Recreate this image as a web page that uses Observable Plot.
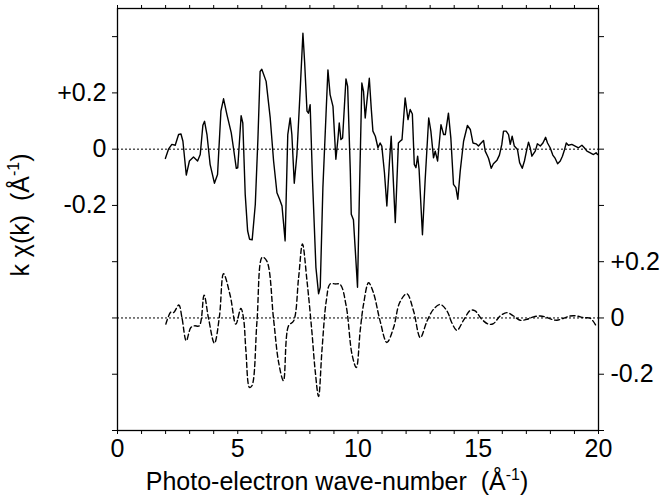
<!DOCTYPE html>
<html>
<head>
<meta charset="utf-8">
<script src="https://cdn.jsdelivr.net/npm/d3@7"></script>
<script src="https://cdn.jsdelivr.net/npm/@observablehq/plot@0.6"></script>
<style>
  html, body { margin: 0; padding: 0; background: white; }
</style>
</head>
<body>
<div id="chart"></div>
<script>
// Experimental k·chi(k) (top, solid)
const expK = [1.99,2.12,2.26,2.40,2.54,2.64,2.72,2.86,2.99,3.16,3.33,3.44,3.55,3.62,3.72,3.85,4.03,4.16,4.30,4.41,4.55,4.73,4.82,4.94,5.00,5.14,5.21,5.31,5.41,5.49,5.60,5.73,5.84,5.93,6.00,6.18,6.35,6.49,6.63,6.74,6.84,6.97,7.08,7.18,7.25,7.35,7.46,7.60,7.71,7.78,7.88,7.94,8.01,8.11,8.25,8.36,8.43,8.54,8.67,8.75,8.84,8.96,9.08,9.17,9.22,9.29,9.36,9.50,9.57,9.68,9.72,9.81,9.88,9.98,10.05,10.16,10.23,10.30,10.37,10.47,10.55,10.62,10.72,10.83,10.92,10.99,11.10,11.20,11.31,11.38,11.45,11.55,11.68,11.75,11.83,11.96,12.08,12.17,12.26,12.34,12.41,12.48,12.54,12.68,12.79,12.94,13.03,13.14,13.21,13.31,13.45,13.56,13.63,13.76,13.86,13.97,14.07,14.15,14.25,14.39,14.55,14.67,14.78,14.91,15.01,15.12,15.22,15.29,15.39,15.43,15.54,15.63,15.78,15.88,15.98,16.05,16.16,16.26,16.33,16.41,16.50,16.63,16.72,16.83,16.92,17.02,17.09,17.16,17.23,17.37,17.46,17.58,17.69,17.80,17.88,17.99,18.10,18.20,18.30,18.41,18.50,18.59,18.66,18.75,18.89,19.03,19.17,19.31,19.41,19.52,19.66,19.79,19.90,19.96];
const expChi = [-0.033,0.000,0.017,0.014,0.052,0.054,0.028,-0.092,-0.042,-0.028,-0.042,-0.019,0.085,0.099,0.052,-0.054,-0.121,-0.090,0.135,0.179,0.123,0.058,0.005,-0.068,-0.066,0.119,0.093,-0.160,-0.290,-0.320,-0.322,-0.196,0.040,0.276,0.284,0.241,0.111,-0.042,-0.155,-0.178,-0.202,-0.326,0.052,0.111,0.052,-0.121,-0.019,0.217,0.412,0.311,0.135,0.128,0.158,-0.113,-0.420,-0.514,-0.491,-0.137,0.123,0.282,0.194,0.152,-0.036,0.040,0.093,0.034,0.040,0.250,0.223,-0.078,-0.231,-0.251,-0.349,-0.491,-0.196,0.235,0.205,0.111,0.170,0.252,0.146,0.064,0.046,0.005,0.022,0.011,-0.084,-0.202,-0.042,0.046,-0.078,-0.261,0.022,0.028,0.034,0.182,0.105,0.141,0.125,-0.054,-0.066,-0.025,-0.072,-0.304,-0.113,0.111,0.064,-0.031,-0.007,-0.042,0.087,0.052,0.052,0.128,0.040,-0.125,-0.137,-0.178,-0.078,0.028,0.084,0.070,0.022,0.019,0.011,0.022,0.031,-0.007,-0.025,-0.033,-0.068,-0.052,-0.039,-0.021,0.017,0.064,0.064,0.052,0.017,0.046,0.011,-0.001,-0.048,-0.068,-0.042,-0.001,0.025,0.005,-0.025,-0.007,0.019,0.011,0.022,0.042,0.022,0.005,-0.021,-0.033,-0.052,-0.042,-0.025,-0.001,0.022,0.014,0.017,0.011,0.005,0.014,0.005,-0.007,-0.013,-0.019,-0.013,-0.019];

// Fitted k·chi(k) (bottom, dashed), drawn shifted by fitOffset
const fitK = [2.01,2.22,2.33,2.55,2.68,2.86,3.05,3.20,3.40,3.60,3.78,4.03,4.24,4.41,4.69,4.92,5.13,5.24,5.34,5.49,5.59,5.80,6.02,6.21,6.49,6.70,6.90,7.11,7.32,7.53,7.69,7.88,8.08,8.22,8.36,8.50,8.68,8.84,9.05,9.26,9.51,9.75,9.93,10.09,10.23,10.44,10.64,10.92,11.20,11.48,11.73,12.03,12.31,12.59,12.87,13.14,13.42,13.70,13.90,14.11,14.39,14.67,14.87,15.15,15.43,15.63,15.91,16.19,16.47,16.74,17.02,17.30,17.58,17.78,18.06,18.27,18.55,18.82,19.10,19.38,19.66,19.90];
const fitChi = [-0.022,0.021,0.019,0.046,0.001,-0.081,-0.034,-0.028,-0.028,0.081,0.001,-0.090,0.007,0.157,0.078,-0.022,0.034,-0.001,-0.117,-0.247,-0.241,-0.011,0.216,0.202,-0.005,-0.158,-0.223,-0.028,-0.011,0.143,0.263,0.131,-0.046,-0.188,-0.279,-0.117,0.060,0.121,0.121,0.119,0.042,-0.129,-0.176,-0.046,0.048,0.125,0.090,-0.011,-0.087,-0.034,0.054,0.086,0.025,-0.070,-0.011,0.031,0.048,0.025,-0.017,-0.044,-0.008,0.027,0.025,-0.005,-0.022,-0.020,0.007,0.019,0.007,-0.008,-0.005,0.004,0.007,0.004,-0.005,-0.008,-0.001,0.007,0.007,0.001,-0.001,-0.028];
const fitOffset = -0.6;

// Axes
const xTicks = [0,1,2,3,4,5,6,7,8,9,10,11,12,13,14,15,16,17,18,19,20];
const xLabelTicks = [0,5,10,15,20];
const yTicks = [-1.0,-0.8,-0.6,-0.4,-0.2,0,0.2,0.4];
const tickValues = [0.2, 0, -0.2];
const tickTexts = ["+0.2", "0", "-0.2"];
const xTitle = "Photo-electron wave-number  (Å";
const yTitle = "k χ(k)  (Å";
const superText = "-1";

const expData = expK.map((k, i) => ({k, chi: expChi[i]}));
const fitData = fitK.map((k, i) => ({k, chi: fitChi[i]}));

const near = (a, b) => Math.abs(a - b) < 1e-6;
const fmtLeft = d => { const i = tickValues.findIndex(v => near(v, d)); return i >= 0 ? tickTexts[i] : ""; };
const fmtRight = d => { const i = tickValues.findIndex(v => near(v + fitOffset, d)); return i >= 0 ? tickTexts[i] : ""; };
const fmtX = d => xLabelTicks.includes(d) ? String(d) : "";

const FS = 25;
const chart = Plot.plot({
  width: 660,
  height: 502,
  marginLeft: 117,
  marginRight: 62,
  marginTop: 8,
  marginBottom: 72,
  style: {fontFamily: "'Liberation Sans', Arial, Helvetica, sans-serif", fontSize: FS + "px", color: "black", background: "white"},
  x: {domain: [0, 20]},
  y: {domain: [-1.0, 0.5]},
  marks: [
    Plot.ruleY([0, fitOffset], {stroke: "black", strokeWidth: 1, strokeDasharray: "2,2"}),
    Plot.line(expData, {x: "k", y: "chi", stroke: "black", strokeWidth: 1.4}),
    Plot.line(fitData, {x: "k", y: d => d.chi + fitOffset, stroke: "black", strokeWidth: 1.4, strokeDasharray: "5,3", curve: "catmull-rom"}),
    Plot.frame({stroke: "black", strokeWidth: 1.3}),
    Plot.axisX({anchor: "bottom", ticks: xTicks, tickSize: 4, tickPadding: 5, tickFormat: fmtX, label: null, fontSize: FS}),
    Plot.axisX({anchor: "top", ticks: xTicks, tickSize: 4, tickFormat: () => "", label: null}),
    Plot.axisY({anchor: "left", ticks: yTicks, tickSize: 5, tickPadding: 6, tickFormat: fmtLeft, label: null, fontSize: FS}),
    Plot.axisY({anchor: "right", ticks: yTicks, tickSize: 5, tickPadding: 7, tickFormat: fmtRight, label: null, fontSize: FS})
  ]
});
document.getElementById("chart").appendChild(chart);

// Axis titles with superscripts
const svg = d3.select(chart);
function addTitle(main, x, y, rotate) {
  const t = svg.append("text")
    .attr("text-anchor", "middle")
    .attr("font-size", FS)
    .attr("fill", "black")
    .attr("style", "white-space: pre")
    .attr("transform", `translate(${x},${y})` + (rotate ? " rotate(-90)" : ""));
  t.append("tspan").text(main);
  t.append("tspan").attr("font-size", 16).attr("dy", -10).text(superText);
  t.append("tspan").attr("dy", 10).text(")");
}
addTitle(xTitle, 337, 490, false);
addTitle(yTitle, 29, 215, true);
</script>
</body>
</html>
